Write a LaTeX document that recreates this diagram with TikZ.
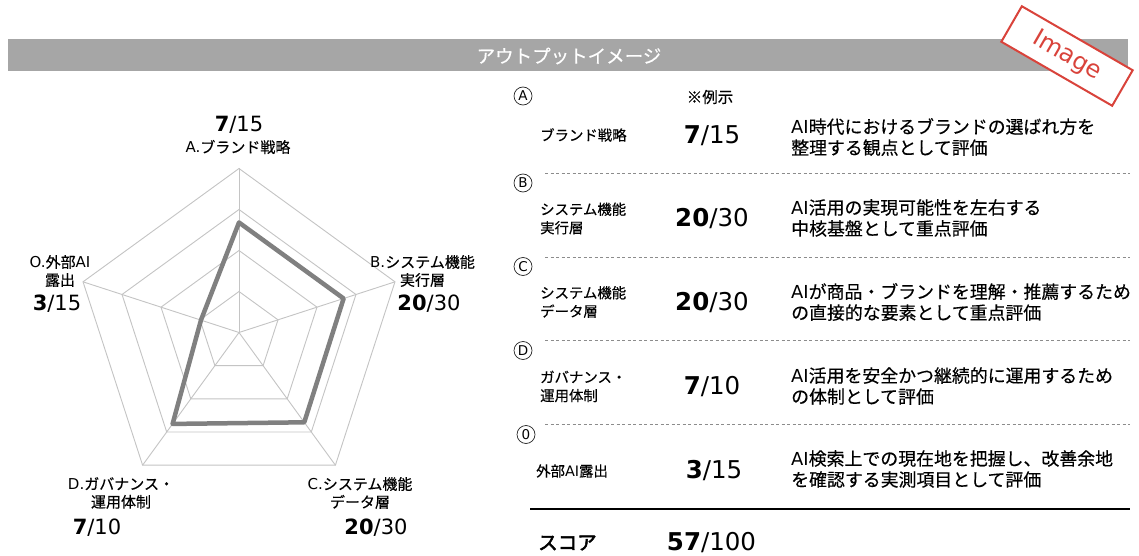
\documentclass[tikz,border=0pt]{standalone}
\usepackage{fontspec}
\setmainfont{Noto Sans CJK JP}[FakeBold=0.35, AutoFakeBold=2.5]
\newfontfamily\latf{DejaVu Sans}
\usetikzlibrary{calc}
\definecolor{barg}{HTML}{A6A6A6}
\definecolor{gridg}{HTML}{C4C4C4}
\definecolor{datag}{HTML}{808080}
\definecolor{stampred}{HTML}{D9433B}
\definecolor{dashg}{HTML}{8C8C8C}
\newcommand{\fsz}[2]{\fontsize{#1}{#2}\selectfont}
\newcommand{\scr}[2]{{\latf\bfseries #1}{\latf /#2}}
\begin{document}
\begin{tikzpicture}[x=1pt,y=-1pt,
  gridline/.style={draw=gridg, line width=0.9pt},
  dataline/.style={draw=datag, line width=4.5pt, line join=round},
  rlabel/.style={font=\fsz{15}{18}, align=center, inner sep=0pt, text=black},
  rscore/.style={font=\fsz{21}{24}, inner sep=0pt, text=black},
  circlbl/.style={circle, draw=black!85, line width=0.7pt, minimum size=18pt, inner sep=0pt, font=\latf\fsz{13.5}{14}},
  rowlbl/.style={font=\fsz{14.4}{18.5}, align=left, anchor=west, inner sep=0pt, text=black},
  tscore/.style={font=\fsz{24.5}{26}, inner sep=0pt, text=black},
  desc/.style={font=\fsz{17.9}{21}, align=left, anchor=west, inner sep=0pt, text=black},
  sepline/.style={draw=dashg, line width=0.9pt, dash pattern=on 3pt off 2.5pt},
  stampbox/.style={draw=stampred, line width=2pt, fill=white, minimum width=128pt, minimum height=41pt, inner sep=0pt, text=stampred, font=\latf\fsz{24}{24}}
]
\useasboundingbox (0,0) rectangle (1139,556);
\fill[white] (0,0) rectangle (1139,556);

% header bar
\node[fill=barg, minimum width=1120pt, minimum height=32pt, inner sep=0pt] (bar) at (568,55) {};
\node[text=white, font=\fsz{18.5}{19}, inner sep=0pt] (title) at (569,56) {アウトプットイメージ};

% radar chart
\coordinate (c) at (239,332.5);
\foreach \n/\a in {A/-90,B/-18,C/54,D/126,O/198}{
  \coordinate (v\n) at ($(c)+(\a:164)$);
}
\foreach \k in {0.25,0.5,0.75,1}{
  \draw[gridline] ($(c)+(-90:164*\k)$) -- ($(c)+(-18:164*\k)$) -- ($(c)+(54:164*\k)$) -- ($(c)+(126:164*\k)$) -- ($(c)+(198:164*\k)$) -- cycle;
}
\foreach \n in {A,B,C,D,O}{ \draw[gridline] (c) -- (v\n); }
\coordinate (pA) at ($(c)+(-90:110)$);
\coordinate (pB) at ($(c)+(-18:110)$);
\coordinate (pC) at ($(c)+(54:111)$);
\coordinate (pD) at ($(c)+(126:113)$);
\coordinate (pO) at ($(c)+(198:40)$);
\draw[dataline] (pA) -- (pB) -- (pC) -- (pD) -- (pO) -- cycle;

% radar labels
\node[rscore] (sA) at (239,125) {\scr{7}{15}};
\node[rlabel] (lA) at (238,147) {{\latf A.}ブランド戦略};
\node[rlabel] (lB) at (422.5,271) {{\latf B.}システム機能\\実行層};
\node[rscore] (sB) at (429,304) {\scr{20}{30}};
\node[rlabel] (lO) at (60,271) {{\latf O.}外部{\latf AI}\\露出};
\node[rscore] (sO) at (57,304) {\scr{3}{15}};
\node[rlabel] (lD) at (121,493) {{\latf D.}ガバナンス・\\運用体制};
\node[rscore] (sD) at (97,528) {\scr{7}{10}};
\node[rlabel] (lC) at (360,493) {{\latf C.}システム機能\\データ層};
\node[rscore] (sC) at (376,528) {\scr{20}{30}};

% right table
\node[circlbl] (cA) at (523,96) {A};
\node[font=\fsz{15.5}{16}, inner sep=0pt, text=black] (rei) at (710,97) {※例示};
\node[rowlbl] (tA) at (540,135) {ブランド戦略};
\node[tscore] (nA) at (712,135.5) {\scr{7}{15}};
\node[desc] (dA) at (791,137) {{\latf AI}時代におけるブランドの選ばれ方を\\整理する観点として評価};

\coordinate (lnB0) at (545,173.5); \coordinate (lnB1) at (1130,173.5);
\draw[sepline] (lnB0) -- (lnB1);
\node[circlbl] (cB) at (523,183) {B};
\node[rowlbl] (tB) at (540,218.5) {システム機能\\実行層};
\node[tscore] (nB) at (712,219) {\scr{20}{30}};
\node[desc] (dB) at (791,218) {{\latf AI}活用の実現可能性を左右する\\中核基盤として重点評価};

\coordinate (lnC0) at (545,257); \coordinate (lnC1) at (1130,257);
\draw[sepline] (lnC0) -- (lnC1);
\node[circlbl] (cC) at (523,266.5) {C};
\node[rowlbl] (tC) at (540,302) {システム機能\\データ層};
\node[tscore] (nC) at (712,302.5) {\scr{20}{30}};
\node[desc] (dC) at (791,302) {{\latf AI}が商品・ブランドを理解・推薦するため\\の直接的な要素として重点評価};

\coordinate (lnD0) at (545,340.7); \coordinate (lnD1) at (1130,340.7);
\draw[sepline] (lnD0) -- (lnD1);
\node[circlbl] (cD) at (523,350.5) {D};
\node[rowlbl] (tD) at (540,386.5) {ガバナンス・\\運用体制};
\node[tscore] (nD) at (712,386.5) {\scr{7}{10}};
\node[desc] (dD) at (791,386) {{\latf AI}活用を安全かつ継続的に運用するため\\の体制として評価};

\coordinate (lnO0) at (545,424.4); \coordinate (lnO1) at (1130,424.4);
\draw[sepline] (lnO0) -- (lnO1);
\node[circlbl] (cO) at (526,434.5) {0};
\node[rowlbl] (tO) at (536,471) {外部{\latf AI}露出};
\node[tscore] (nO) at (714,471) {\scr{3}{15}};
\node[desc] (dO) at (791,469) {{\latf AI}検索上での現在地を把握し、改善余地\\を確認する実測項目として評価};

\coordinate (tot0) at (530,508.5); \coordinate (tot1) at (1130,508.5);
\draw[black, line width=2pt] (tot0) -- (tot1);
\node[font=\fsz{19.5}{20}\bfseries, anchor=west, inner sep=0pt, text=black] (score) at (538,543) {スコア};
\node[tscore] (total) at (711.5,543) {\scr{57}{100}};

% stamp
\node[stampbox, rotate=-30] (stamp) at (1067,56) {Image};
\end{tikzpicture}
\end{document}
